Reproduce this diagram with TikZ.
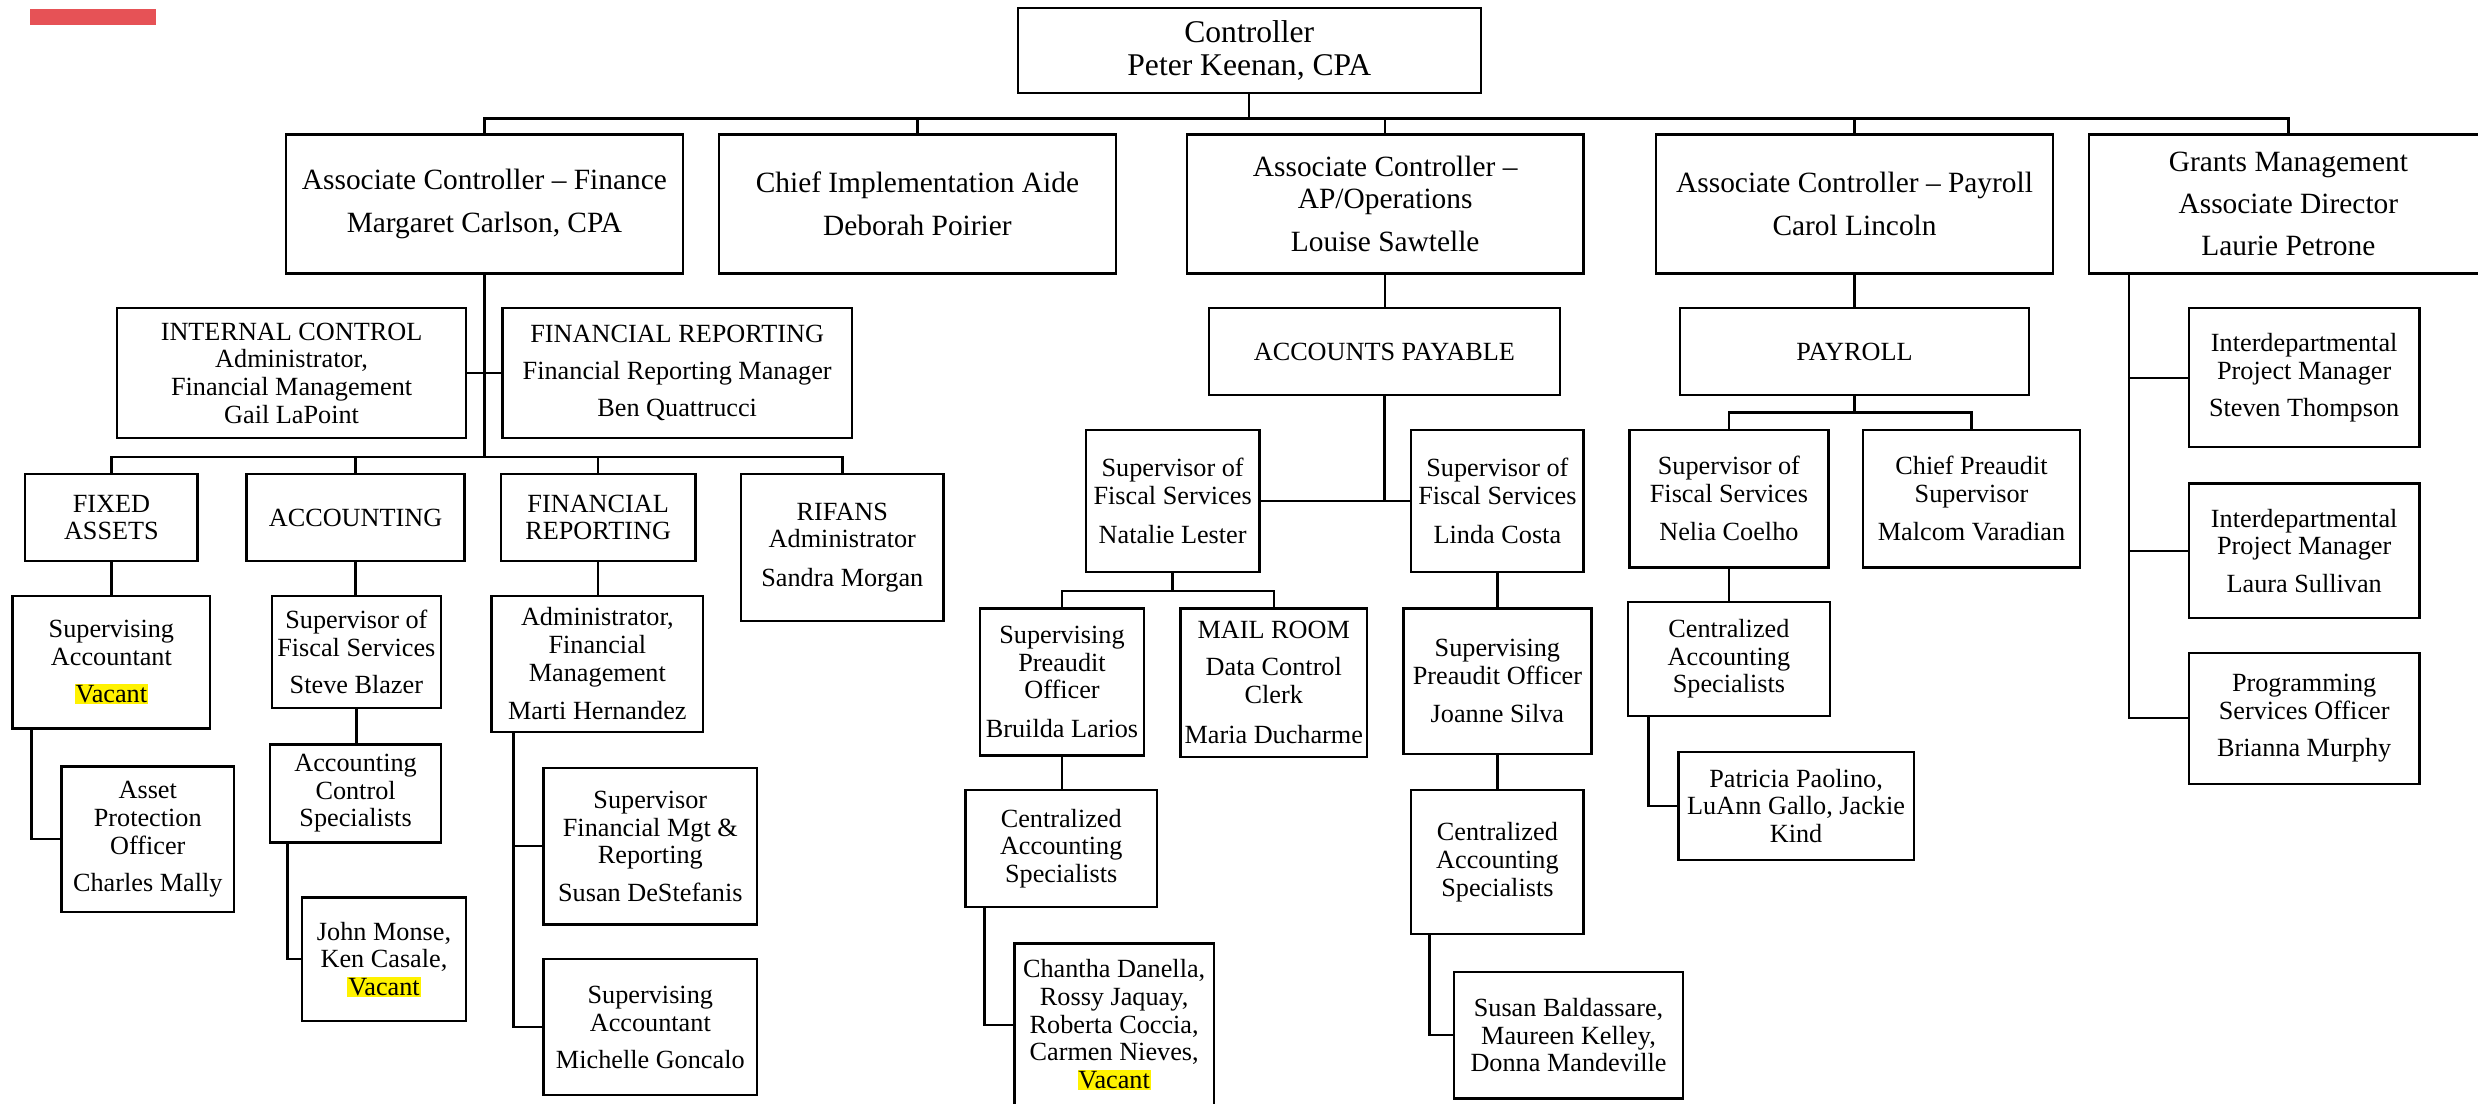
\documentclass[tikz,border=0pt]{standalone}
\usepackage{fontspec}
\setmainfont{Liberation Serif}
\usetikzlibrary{calc}
\definecolor{redbar}{RGB}{230,82,86}
\newcommand\fctrl{\fontsize{20}{21}\selectfont}
\newcommand\flone{\fontsize{18.6}{20}\selectfont}
\newcommand\fsmall{\fontsize{16.6}{17.5}\selectfont}
\newcommand\vac{{\setlength{\fboxsep}{0.6pt}\colorbox{yellow}{Vacant}}}
\newcommand\obox[7]{\node[orgbox,font=#6,minimum width={#4-#2},minimum height={#5-#3}] (#1) at ({(#2+#4)/2},{(#3+#5)/2+1}) {#7};}
\tikzset{
  orgbox/.style={draw,line width=1.5pt,inner sep=0pt,outer sep=0pt,align=center,text=black},
  conn/.style={line width=1.5pt,line cap=rect}
}
\begin{document}
\begin{tikzpicture}[x=1pt,y=-1pt]
\useasboundingbox[fill=white] (0,0) rectangle (1568,698);
\fill[redbar] (19,6) rectangle (99,16);
% level 0 and 1
\obox{ctrl}{644}{4}{937}{58}{\fctrl}{Controller\\Peter Keenan, CPA}
\obox{fin}{181}{84}{432}{172}{\flone}{Associate Controller – Finance\\[7pt]Margaret Carlson, CPA}
\obox{chief}{455}{84}{706}{172}{\flone}{Chief Implementation Aide\\[7pt]Deborah Poirier}
\obox{apo}{751}{84}{1002}{172}{\flone}{Associate Controller –\\AP/Operations\\[7pt]Louise Sawtelle}
\obox{pay}{1048}{84}{1299}{172}{\flone}{Associate Controller – Payroll\\[7pt]Carol Lincoln}
\obox{grants}{1322}{84}{1574}{172}{\flone}{Grants Management\\[6.5pt]Associate Director\\[6.5pt]Laurie Petrone}
% finance subtree
\obox{ic}{74}{194}{295}{276}{\fsmall}{INTERNAL CONTROL\\Administrator,\\Financial Management\\Gail LaPoint}
\obox{frm}{318}{194}{539}{276}{\fsmall}{FINANCIAL REPORTING\\[6pt]Financial Reporting Manager\\[6pt]Ben Quattrucci}
\obox{fa}{16}{299}{125}{354}{\fsmall}{FIXED\\ASSETS}
\obox{acc}{156}{299}{294}{354}{\fsmall}{ACCOUNTING}
\obox{frp}{317}{299}{440}{354}{\fsmall}{FINANCIAL\\REPORTING}
\obox{rif}{469}{299}{597}{392}{\fsmall}{RIFANS\\Administrator\\[7pt]Sandra Morgan}
\obox{sa1}{8}{376}{133}{460}{\fsmall}{Supervising\\Accountant\\[6pt]\vac}
\obox{apr}{39}{484}{148}{576}{\fsmall}{Asset\\Protection\\Officer\\[6pt]Charles Mally}
\obox{sfs1}{172}{376}{279}{447}{\fsmall}{Supervisor of\\Fiscal Services\\[6pt]Steve Blazer}
\obox{acs}{171}{470}{279}{532}{\fsmall}{Accounting\\Control\\Specialists}
\obox{jm}{191}{567}{295}{645}{\fsmall}{John Monse,\\Ken Casale,\\\vac}
\obox{afm}{311}{376}{445}{462}{\fsmall}{Administrator,\\Financial\\Management\\[7pt]Marti Hernandez}
\obox{sfm}{344}{485}{479}{584}{\fsmall}{Supervisor\\Financial Mgt \&\\Reporting\\[6pt]Susan DeStefanis}
\obox{sa2}{344}{606}{479}{692}{\fsmall}{Supervising\\Accountant\\[6pt]Michelle Goncalo}
% AP subtree
\obox{acp}{765}{194}{987}{249}{\fsmall}{ACCOUNTS PAYABLE}
\obox{nat}{687}{271}{797}{361}{\fsmall}{Supervisor of\\Fiscal Services\\[7pt]Natalie Lester}
\obox{lin}{893}{271}{1002}{361}{\fsmall}{Supervisor of\\Fiscal Services\\[7pt]Linda Costa}
\obox{bru}{620}{384}{724}{477}{\fsmall}{Supervising\\Preaudit\\Officer\\[7pt]Bruilda Larios}
\obox{mail}{747}{384}{865}{478}{\fsmall}{MAIL ROOM\\[6pt]Data Control\\Clerk\\[8pt]Maria Ducharme}
\obox{cas1}{611}{499}{732}{573}{\fsmall}{Centralized\\Accounting\\Specialists}
\obox{cha}{642}{596}{768}{699}{\fsmall}{Chantha Danella,\\Rossy Jaquay,\\Roberta Coccia,\\Carmen Nieves,\\\vac}
\obox{joa}{888}{384}{1007}{476}{\fsmall}{Supervising\\Preaudit Officer\\[7pt]Joanne Silva}
\obox{cas2}{893}{499}{1002}{590}{\fsmall}{Centralized\\Accounting\\Specialists}
\obox{sba}{920}{614}{1065}{694}{\fsmall}{Susan Baldassare,\\Maureen Kelley,\\Donna Mandeville}
% payroll subtree
\obox{pr}{1063}{194}{1284}{249}{\fsmall}{PAYROLL}
\obox{nel}{1031}{271}{1157}{358}{\fsmall}{Supervisor of\\Fiscal Services\\[7pt]Nelia Coelho}
\obox{cps}{1179}{271}{1316}{358}{\fsmall}{Chief Preaudit\\Supervisor\\[7pt]Malcom Varadian}
\obox{cas3}{1030}{380}{1158}{452}{\fsmall}{Centralized\\Accounting\\Specialists}
\obox{pat}{1062}{475}{1211}{543}{\fsmall}{Patricia Paolino,\\LuAnn Gallo, Jackie\\Kind}
% grants subtree
\obox{ipm1}{1385}{194}{1531}{282}{\fsmall}{Interdepartmental\\Project Manager\\[6pt]Steven Thompson}
\obox{ipm2}{1385}{305}{1531}{390}{\fsmall}{Interdepartmental\\Project Manager\\[6pt]Laura Sullivan}
\obox{pso}{1385}{412}{1531}{495}{\fsmall}{Programming\\Services Officer\\[6pt]Brianna Murphy}
% connectors
\coordinate (b1) at (790,75);
\coordinate (b3) at (306,289);
\coordinate (b5) at (742,374);
\coordinate (b6) at (1173,261);
\draw[conn] (ctrl.south) -- (ctrl.south |- b1);
\draw[conn] (fin.north) -- (fin.north |- b1) -- (grants.north |- b1) -- (grants.north);
\draw[conn] (chief.north) -- (chief.north |- b1);
\draw[conn] (apo.north) -- (apo.north |- b1);
\draw[conn] (pay.north) -- (pay.north |- b1);
% finance
\draw[conn] (fin.south) -- (fin.south |- b3);
\draw[conn] (ic.east) -- (frm.west);
\draw[conn] (fa.north) -- (fa.north |- b3) -- (rif.north |- b3) -- (rif.north);
\draw[conn] (acc.north) -- (acc.north |- b3);
\draw[conn] (frp.north) -- (frp.north |- b3);
\draw[conn] (fa.south) -- (fa.south |- sa1.north);
\draw[conn] ([xshift=12pt]sa1.south west) |- (apr.west);
\draw[conn] (acc.south) -- (acc.south |- sfs1.north);
\draw[conn] (sfs1.south) -- (sfs1.south |- acs.north);
\draw[conn] ([xshift=11pt]acs.south west) |- (jm.west);
\draw[conn] (frp.south) -- (frp.south |- afm.north);
\draw[conn] ([xshift=14pt]afm.south west) |- (sfm.west);
\draw[conn] ([xshift=14pt]afm.south west) |- (sa2.west);
% AP
\draw[conn] (apo.south) -- (apo.south |- acp.north);
\draw[conn] (acp.south) -- (acp.south |- nat.east);
\draw[conn] (nat.east) -- (lin.west);
\draw[conn] (nat.south) -- (nat.south |- b5);
\draw[conn] (bru.north) -- (bru.north |- b5) -- (mail.north |- b5) -- (mail.north);
\draw[conn] (bru.south) -- (bru.south |- cas1.north);
\draw[conn] ([xshift=12pt]cas1.south west) |- (cha.west);
\draw[conn] (lin.south) -- (lin.south |- joa.north);
\draw[conn] (joa.south) -- (joa.south |- cas2.north);
\draw[conn] ([xshift=11.5pt]cas2.south west) |- (sba.west);
% payroll
\draw[conn] (pay.south) -- (pay.south |- pr.north);
\draw[conn] (pr.south) -- (pr.south |- b6);
\draw[conn] (nel.north) -- (nel.north |- b6) -- (cps.north |- b6) -- (cps.north);
\draw[conn] (nel.south) -- (nel.south |- cas3.north);
\draw[conn] ([xshift=13pt]cas3.south west) |- (pat.west);
% grants
\draw[conn] ([xshift=25pt]grants.south west) |- (pso.west);
\draw[conn] ([xshift=25pt]grants.south west) |- (ipm1.west);
\draw[conn] ([xshift=25pt]grants.south west) |- (ipm2.west);
\end{tikzpicture}
\end{document}
